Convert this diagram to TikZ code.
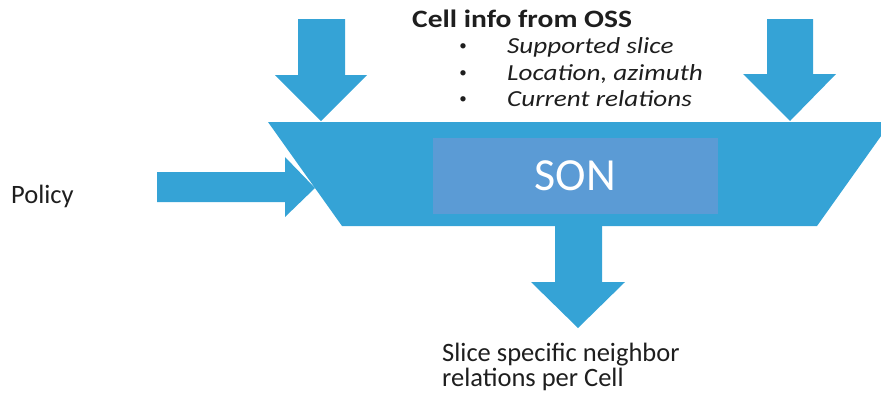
\documentclass[tikz,border=0pt]{standalone}
\usepackage{fontspec}
\setmainfont{Carlito}
\newfontfamily\widefont[FakeStretch=1.18]{Carlito}
\definecolor{sonblue}{RGB}{53,163,214}
\definecolor{boxblue}{RGB}{91,155,213}
\definecolor{inktext}{RGB}{30,30,30}
\begin{document}
\begin{tikzpicture}[x=1pt,y=-1pt,
	block/.style={fill=sonblue,draw=none},
	infotext/.style={inner sep=0pt,text=inktext,font=\widefont\itshape\fontsize{23}{26}\selectfont},
	plaintext/.style={inner sep=0pt,text=inktext,font=\fontsize{26.5}{25}\selectfont}]
		\useasboundingbox (0,0) rectangle (881,392);
		\draw [block] (268,122) -- (891,122) -- (817,226) -- (342,226) -- cycle;%big trapezoid
		\fill [boxblue] (433,138) rectangle (718,214);%inner box
		\node [text=white,font=\fontsize{46}{46}\selectfont] (son) at (575.5,176) {SON};
		\draw [block] (298,19) -- (345,19) -- (345,75) -- (367,75) -- (321,121) -- (275,75) -- (298,75) -- cycle;%left input arrow
		\draw [block] (767,19) -- (813,19) -- (813,74) -- (836,74) -- (790,121) -- (743,74) -- (767,74) -- cycle;%right input arrow
		\draw [block] (157,172) -- (285,172) -- (285,157) -- (315,188) -- (285,217) -- (285,202) -- (157,202) -- cycle;%policy arrow
		\draw [block] (555,226) -- (602,226) -- (602,282) -- (625,282) -- (578,328) -- (531,282) -- (555,282) -- cycle;%output arrow
		\node [infotext,anchor=base west,font=\widefont\bfseries\fontsize{25}{26}\selectfont] (cellinfo) at (412,27) {Cell info from OSS};
		\node [infotext,anchor=base,font=\fontsize{15}{15}\selectfont] (dot1) at (463,50) {•};
		\node [infotext,anchor=base,font=\fontsize{15}{15}\selectfont] (dot2) at (463,77) {•};
		\node [infotext,anchor=base,font=\fontsize{15}{15}\selectfont] (dot3) at (463,103) {•};
		\node [infotext,anchor=base west] (slice) at (507,53) {Supported slice};
		\node [infotext,anchor=base west] (location) at (507,80) {Location, azimuth};
		\node [infotext,anchor=base west] (relations) at (507,106) {Current relations};
		\node [plaintext,anchor=base west] (policy) at (11,203) {Policy};
		\node [plaintext,anchor=base west] (out1) at (442,361) {Slice specific neighbor};
		\node [plaintext,anchor=base west] (out2) at ([yshift=-25pt]out1.base west) {relations per Cell};
\end{tikzpicture}
\end{document}
